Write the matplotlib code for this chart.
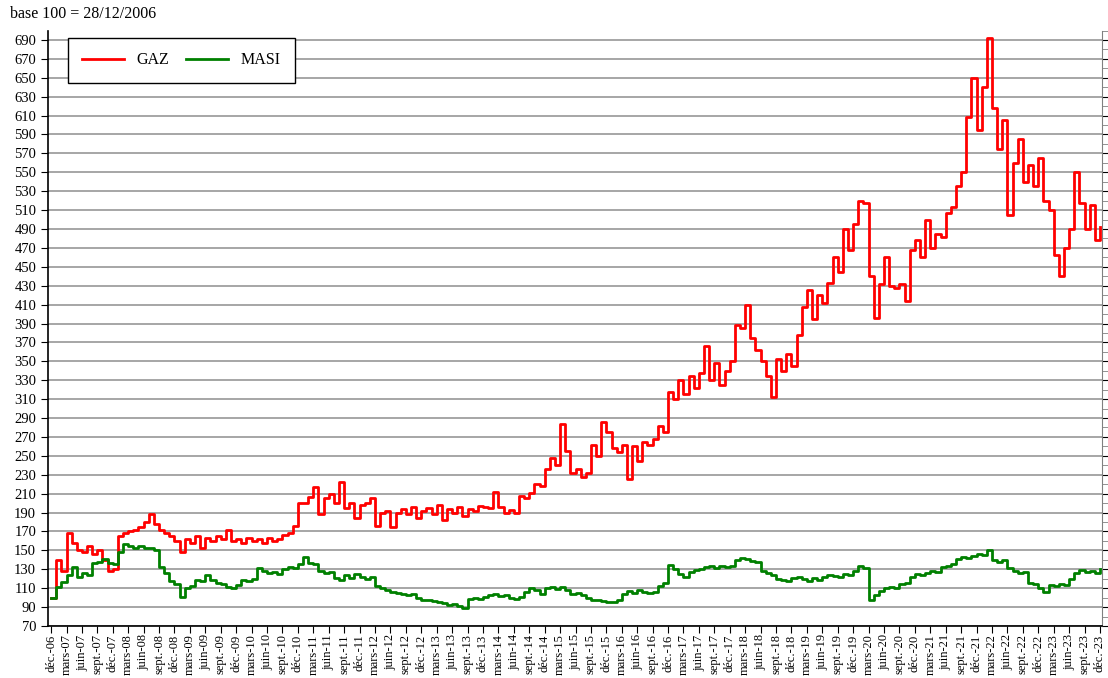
import matplotlib
matplotlib.use("Agg")
import matplotlib.pyplot as plt
from matplotlib.ticker import MultipleLocator

# monthly values, déc-06 -> déc-23 (base 100 = 28/12/2006)
gaz_2006 = [100]
gaz_2007 = [140, 128, 168, 158, 150, 148, 155, 146, 150, 140, 128, 130]
gaz_2008 = [165, 168, 170, 172, 175, 180, 188, 178, 172, 168, 165, 160]
gaz_2009 = [148, 162, 158, 165, 152, 163, 160, 165, 162, 172, 160, 162]
gaz_2010 = [158, 163, 160, 162, 158, 163, 160, 162, 166, 168, 176, 200]
gaz_2011 = [200, 207, 217, 188, 205, 210, 200, 222, 195, 200, 184, 198]
gaz_2012 = [200, 205, 176, 190, 192, 175, 190, 194, 188, 196, 184, 192]
gaz_2013 = [195, 188, 198, 182, 194, 190, 196, 186, 194, 192, 197, 196]
gaz_2014 = [195, 212, 196, 190, 193, 190, 208, 205, 211, 220, 218, 236]
gaz_2015 = [248, 240, 284, 255, 232, 236, 228, 232, 262, 250, 286, 275]
gaz_2016 = [258, 254, 262, 226, 260, 245, 265, 262, 268, 282, 275, 318]
gaz_2017 = [310, 330, 315, 335, 322, 338, 366, 330, 348, 325, 340, 350]
gaz_2018 = [388, 385, 410, 375, 362, 350, 335, 312, 352, 340, 358, 345]
gaz_2019 = [378, 408, 425, 395, 420, 412, 433, 460, 445, 490, 468, 495]
gaz_2020 = [520, 518, 440, 396, 432, 460, 430, 428, 432, 414, 468, 478]
gaz_2021 = [460, 500, 470, 485, 482, 507, 513, 535, 550, 608, 650, 595]
gaz_2022 = [640, 692, 618, 575, 605, 505, 560, 585, 540, 558, 535, 565]
gaz_2023 = [520, 510, 462, 440, 470, 490, 550, 518, 490, 515, 478, 492]

masi_2006 = [100]
masi_2007 = [111, 117, 124, 132, 122, 126, 124, 137, 138, 141, 137, 136]
masi_2008 = [148, 157, 155, 153, 155, 152, 153, 150, 132, 126, 118, 114]
masi_2009 = [101, 110, 112, 119, 118, 124, 119, 116, 114, 111, 110, 113]
masi_2010 = [119, 118, 120, 131, 128, 126, 127, 125, 130, 132, 131, 136]
masi_2011 = [143, 137, 136, 128, 126, 127, 121, 119, 124, 121, 125, 122]
masi_2012 = [120, 122, 112, 110, 108, 106, 105, 104, 103, 104, 100, 97]
masi_2013 = [98, 96, 95, 94, 92, 93, 91, 89, 99, 100, 99, 101]
masi_2014 = [103, 104, 102, 103, 100, 99, 101, 106, 110, 108, 104, 110]
masi_2015 = [111, 109, 111, 108, 104, 105, 103, 100, 98, 97, 96, 95]
masi_2016 = [95, 97, 104, 107, 105, 108, 106, 105, 106, 112, 116, 135]
masi_2017 = [130, 125, 122, 127, 129, 130, 132, 133, 131, 134, 132, 134]
masi_2018 = [140, 142, 141, 139, 138, 128, 126, 124, 120, 119, 118, 121]
masi_2019 = [122, 120, 118, 121, 119, 122, 124, 123, 122, 125, 124, 128]
masi_2020 = [133, 131, 97, 103, 107, 110, 111, 110, 114, 116, 122, 125]
masi_2021 = [124, 126, 128, 127, 132, 134, 136, 141, 143, 142, 144, 146]
masi_2022 = [145, 150, 140, 138, 140, 131, 128, 126, 127, 116, 114, 110]
masi_2023 = [106, 113, 112, 114, 113, 120, 126, 129, 127, 128, 126, 130]

gaz = (gaz_2006 + gaz_2007 + gaz_2008 + gaz_2009 + gaz_2010 + gaz_2011 + gaz_2012
       + gaz_2013 + gaz_2014 + gaz_2015 + gaz_2016 + gaz_2017 + gaz_2018 + gaz_2019
       + gaz_2020 + gaz_2021 + gaz_2022 + gaz_2023)
masi = (masi_2006 + masi_2007 + masi_2008 + masi_2009 + masi_2010 + masi_2011 + masi_2012
        + masi_2013 + masi_2014 + masi_2015 + masi_2016 + masi_2017 + masi_2018 + masi_2019
        + masi_2020 + masi_2021 + masi_2022 + masi_2023)
months = list(range(len(gaz)))

quarter_names = ["déc.", "mars", "juin", "sept."]
tick_pos = list(range(0, len(gaz), 3))
tick_labels = []
for i, p in enumerate(tick_pos):
    yr = 6 + (p + 11) // 12
    tick_labels.append("%s-%02d" % (quarter_names[i % 4], yr))

plt.rcParams["font.family"] = "Liberation Serif"

fig = plt.figure(figsize=(11.08, 6.78), dpi=100)
ax = fig.add_axes([48 / 1108, 1 - 626 / 678, 1054 / 1108, (626 - 30.5) / 678])

ax.plot(months, gaz, color="#ff0000", lw=2.0, drawstyle="steps-post", label="GAZ", zorder=3)
ax.plot(months, masi, color="#008000", lw=2.0, drawstyle="steps-post", label="MASI", zorder=3)

ax.set_ylim(70, 700)
ax.set_xlim(-0.6, 204.4)
ax.set_yticks(range(70, 691, 20))
ax.yaxis.set_minor_locator(MultipleLocator(10))
ax.set_xticks(tick_pos)
ax.set_xticklabels(tick_labels, rotation=90, fontsize=9)
ax.tick_params(axis="y", which="major", labelsize=10.5, length=5, right=True, direction="out")
ax.tick_params(axis="y", which="minor", left=False, right=True, length=5, color="#808080")
ax.tick_params(axis="x", length=5, pad=1)
ax.grid(axis="y", color="#a6a6a6", lw=1.4)
ax.set_axisbelow(True)

ax.spines["top"].set_visible(False)
ax.spines["right"].set_color("#808080")
ax.spines["left"].set_linewidth(1.2)
ax.spines["bottom"].set_linewidth(1.2)

leg = ax.legend(loc="upper left", ncol=2, mode="expand",
                bbox_to_anchor=(60 / 1108, 1 - 75 / 678, 243 / 1108, 45 / 678),
                bbox_transform=fig.transFigure, fontsize=11.5, fancybox=False,
                edgecolor="black", framealpha=1, handlelength=2.6, borderpad=0.9)
leg.get_frame().set_linewidth(1.0)

fig.text(10 / 1108, 1 - 14 / 678, "base 100 = 28/12/2006", fontsize=11.5, va="center", ha="left")

fig.savefig("out.png", dpi=100)
